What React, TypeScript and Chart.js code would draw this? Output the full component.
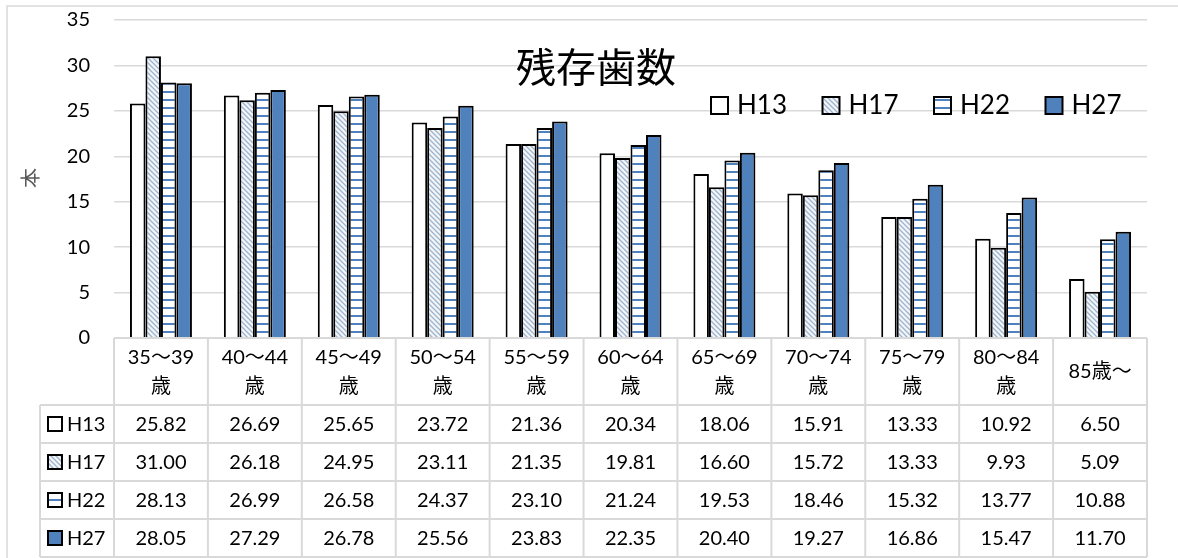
import React, { useEffect, useRef } from "react";
import { Chart, registerables } from "chart.js";

Chart.register(...registerables);

const categoryLines: string[][] = [
  ["35～39", "歳"],
  ["40～44", "歳"],
  ["45～49", "歳"],
  ["50～54", "歳"],
  ["55～59", "歳"],
  ["60～64", "歳"],
  ["65～69", "歳"],
  ["70～74", "歳"],
  ["75～79", "歳"],
  ["80～84", "歳"],
  ["85歳～"],
];
const seriesNames = ["H13", "H17", "H22", "H27"];
const h13 = [25.82, 26.69, 25.65, 23.72, 21.36, 20.34, 18.06, 15.91, 13.33, 10.92, 6.5];
const h17 = [31.0, 26.18, 24.95, 23.11, 21.35, 19.81, 16.6, 15.72, 13.33, 9.93, 5.09];
const h22 = [28.13, 26.99, 26.58, 24.37, 23.1, 21.24, 19.53, 18.46, 15.32, 13.77, 10.88];
const h27 = [28.05, 27.29, 26.78, 25.56, 23.83, 22.35, 20.4, 19.27, 16.86, 15.47, 11.7];
const yTicksMax = 35;
const yStep = 5;
const chartTitle = "残存歯数";
const yTitle = "本";

const BLUE = "#4f81bd";
const GRID = "#d9d9d9";
const LATIN = "Lato, 'Noto Sans CJK JP', sans-serif";
const CJK = "'Noto Sans CJK JP', sans-serif";

function makeHatch(): CanvasPattern | string {
  const c = document.createElement("canvas");
  c.width = 5;
  c.height = 5;
  const g = c.getContext("2d");
  if (!g) return "#ccc";
  g.fillStyle = "#f2f6fa";
  g.fillRect(0, 0, 5, 5);
  g.strokeStyle = "#9fb3cc";
  g.lineWidth = 1.3;
  g.beginPath();
  g.moveTo(-1, -1);
  g.lineTo(6, 6);
  g.moveTo(-1, 4);
  g.lineTo(1, 6);
  g.moveTo(4, -1);
  g.lineTo(6, 1);
  g.stroke();
  return g.createPattern(c, "repeat") as CanvasPattern;
}

function makeStripes(): CanvasPattern | string {
  const c = document.createElement("canvas");
  c.width = 8;
  c.height = 8;
  const g = c.getContext("2d");
  if (!g) return "#ccc";
  g.fillStyle = "#ffffff";
  g.fillRect(0, 0, 8, 8);
  g.fillStyle = BLUE;
  g.fillRect(0, 3, 8, 2);
  return g.createPattern(c, "repeat") as CanvasPattern;
}

export default function App() {
  const ref = useRef<HTMLCanvasElement | null>(null);

  useEffect(() => {
    const canvas = ref.current;
    if (!canvas) return;
    const fills: (CanvasPattern | string)[] = ["#ffffff", makeHatch(), makeStripes(), BLUE];
    const seriesData = [h13, h17, h22, h27];

    const overlay = {
      id: "overlay",
      beforeDraw(chart: any) {
        const ctx = chart.ctx as CanvasRenderingContext2D;
        ctx.save();
        ctx.fillStyle = "#fff";
        ctx.fillRect(0, 0, chart.width, chart.height);
        ctx.strokeStyle = GRID;
        ctx.lineWidth = 1.5;
        ctx.beginPath();
        ctx.moveTo(7, chart.height);
        ctx.lineTo(7, 6);
        ctx.lineTo(chart.width, 6);
        ctx.stroke();
        ctx.restore();
      },
      afterDraw(chart: any) {
        const ctx = chart.ctx as CanvasRenderingContext2D;
        const x = chart.scales.x;
        const area = chart.chartArea;
        const n = categoryLines.length;
        const half = (x.getPixelForValue(1) - x.getPixelForValue(0)) / 2;
        const left = x.getPixelForValue(0) - half;
        const right = x.getPixelForValue(n - 1) + half;
        const top = area.bottom;
        const headerH = 67;
        const rowH = 38;
        const legendLeft = 40;
        ctx.save();

        // title
        ctx.fillStyle = "#000";
        ctx.font = `40px ${CJK}`;
        ctx.textAlign = "center";
        ctx.textBaseline = "middle";
        ctx.fillText(chartTitle, 596, 67);

        // y title rotated
        ctx.save();
        ctx.translate(30, 178);
        ctx.rotate(-Math.PI / 2);
        ctx.fillStyle = "#595959";
        ctx.font = `20px ${CJK}`;
        ctx.fillText(yTitle, 0, 0);
        ctx.restore();

        // legend
        const legX = 711;
        const legStep = 111.5;
        const legY = 105;
        ctx.font = `26px ${LATIN}`;
        ctx.textAlign = "left";
        seriesNames.forEach((name, i) => {
          const bx = legX + i * legStep;
          ctx.fillStyle = fills[i] as any;
          ctx.fillRect(bx, legY - 8, 17, 17);
          ctx.strokeStyle = "#000";
          ctx.lineWidth = 2;
          ctx.strokeRect(bx, legY - 8, 17, 17);
          ctx.fillStyle = "#000";
          ctx.fillText(name, bx + 26, legY + 1);
        });

        // table grid
        ctx.strokeStyle = GRID;
        ctx.lineWidth = 2;
        ctx.beginPath();
        ctx.moveTo(left, top);
        ctx.lineTo(right, top);
        for (let r = 0; r <= seriesNames.length; r++) {
          const yy = top + headerH + r * rowH;
          ctx.moveTo(legendLeft, yy);
          ctx.lineTo(right, yy);
        }
        for (let i = 0; i <= n; i++) {
          const xx = left + i * half * 2;
          ctx.moveTo(xx, top);
          ctx.lineTo(xx, top + headerH + seriesNames.length * rowH);
        }
        ctx.moveTo(legendLeft, top + headerH);
        ctx.lineTo(legendLeft, top + headerH + seriesNames.length * rowH);
        ctx.stroke();

        // header text
        ctx.fillStyle = "#000";
        ctx.textAlign = "center";
        ctx.textBaseline = "middle";
        ctx.font = `20px ${LATIN}`;
        categoryLines.forEach((lines, i) => {
          const cx = x.getPixelForValue(i);
          if (lines.length === 1) {
            ctx.fillText(lines[0], cx, top + headerH / 2);
          } else {
            ctx.fillText(lines[0], cx, top + 20);
            ctx.fillText(lines[1], cx, top + 49);
          }
        });

        // rows
        seriesNames.forEach((name, r) => {
          const cy = top + headerH + r * rowH + rowH / 2;
          ctx.fillStyle = fills[r] as any;
          ctx.fillRect(48, cy - 7, 14, 14);
          ctx.strokeStyle = "#000";
          ctx.lineWidth = 2;
          ctx.strokeRect(48, cy - 7, 14, 14);
          ctx.fillStyle = "#000";
          ctx.textAlign = "left";
          ctx.font = `20px ${LATIN}`;
          ctx.fillText(name, 67, cy + 1);
          ctx.textAlign = "center";
          seriesData[r].forEach((v, i) => {
            ctx.fillText(v.toFixed(2), x.getPixelForValue(i), cy + 1);
          });
        });
        ctx.restore();
      },
    };

    const chart = new Chart(canvas, {
      type: "bar",
      data: {
        labels: categoryLines.map((l) => l.join("")),
        datasets: seriesNames.map((name, i) => ({
          label: name,
          data: seriesData[i],
          backgroundColor: fills[i] as any,
          borderColor: "#000",
          borderWidth: 2,
          borderSkipped: "bottom",
          categoryPercentage: 0.66,
          barPercentage: 1.0,
        })),
      },
      options: {
        responsive: false,
        animation: false,
        devicePixelRatio: 1,
        layout: { padding: { top: 20, right: 31, bottom: 220, left: 0 } },
        plugins: {
          legend: { display: false },
          title: { display: false },
          tooltip: { enabled: false },
        },
        scales: {
          x: {
            display: false,
            grid: { display: false },
          },
          y: {
            min: 0,
            max: yTicksMax,
            afterFit: (s: any) => {
              s.width = 114;
              s.paddingTop = 0;
              s.paddingBottom = 0;
            },
            ticks: {
              stepSize: yStep,
              padding: 24,
              color: "#000",
              font: { family: LATIN, size: 20 },
            },
            grid: { color: GRID, lineWidth: 1.5, drawTicks: false },
            border: { display: false },
          },
        },
      },
      plugins: [overlay],
    });
    return () => chart.destroy();
  }, []);

  return (
    <div style={{ position: "absolute", left: 0, top: 0, width: 1178, height: 558 }}>
      <canvas ref={ref} width={1178} height={558} style={{ display: "block" }} />
    </div>
  );
}
